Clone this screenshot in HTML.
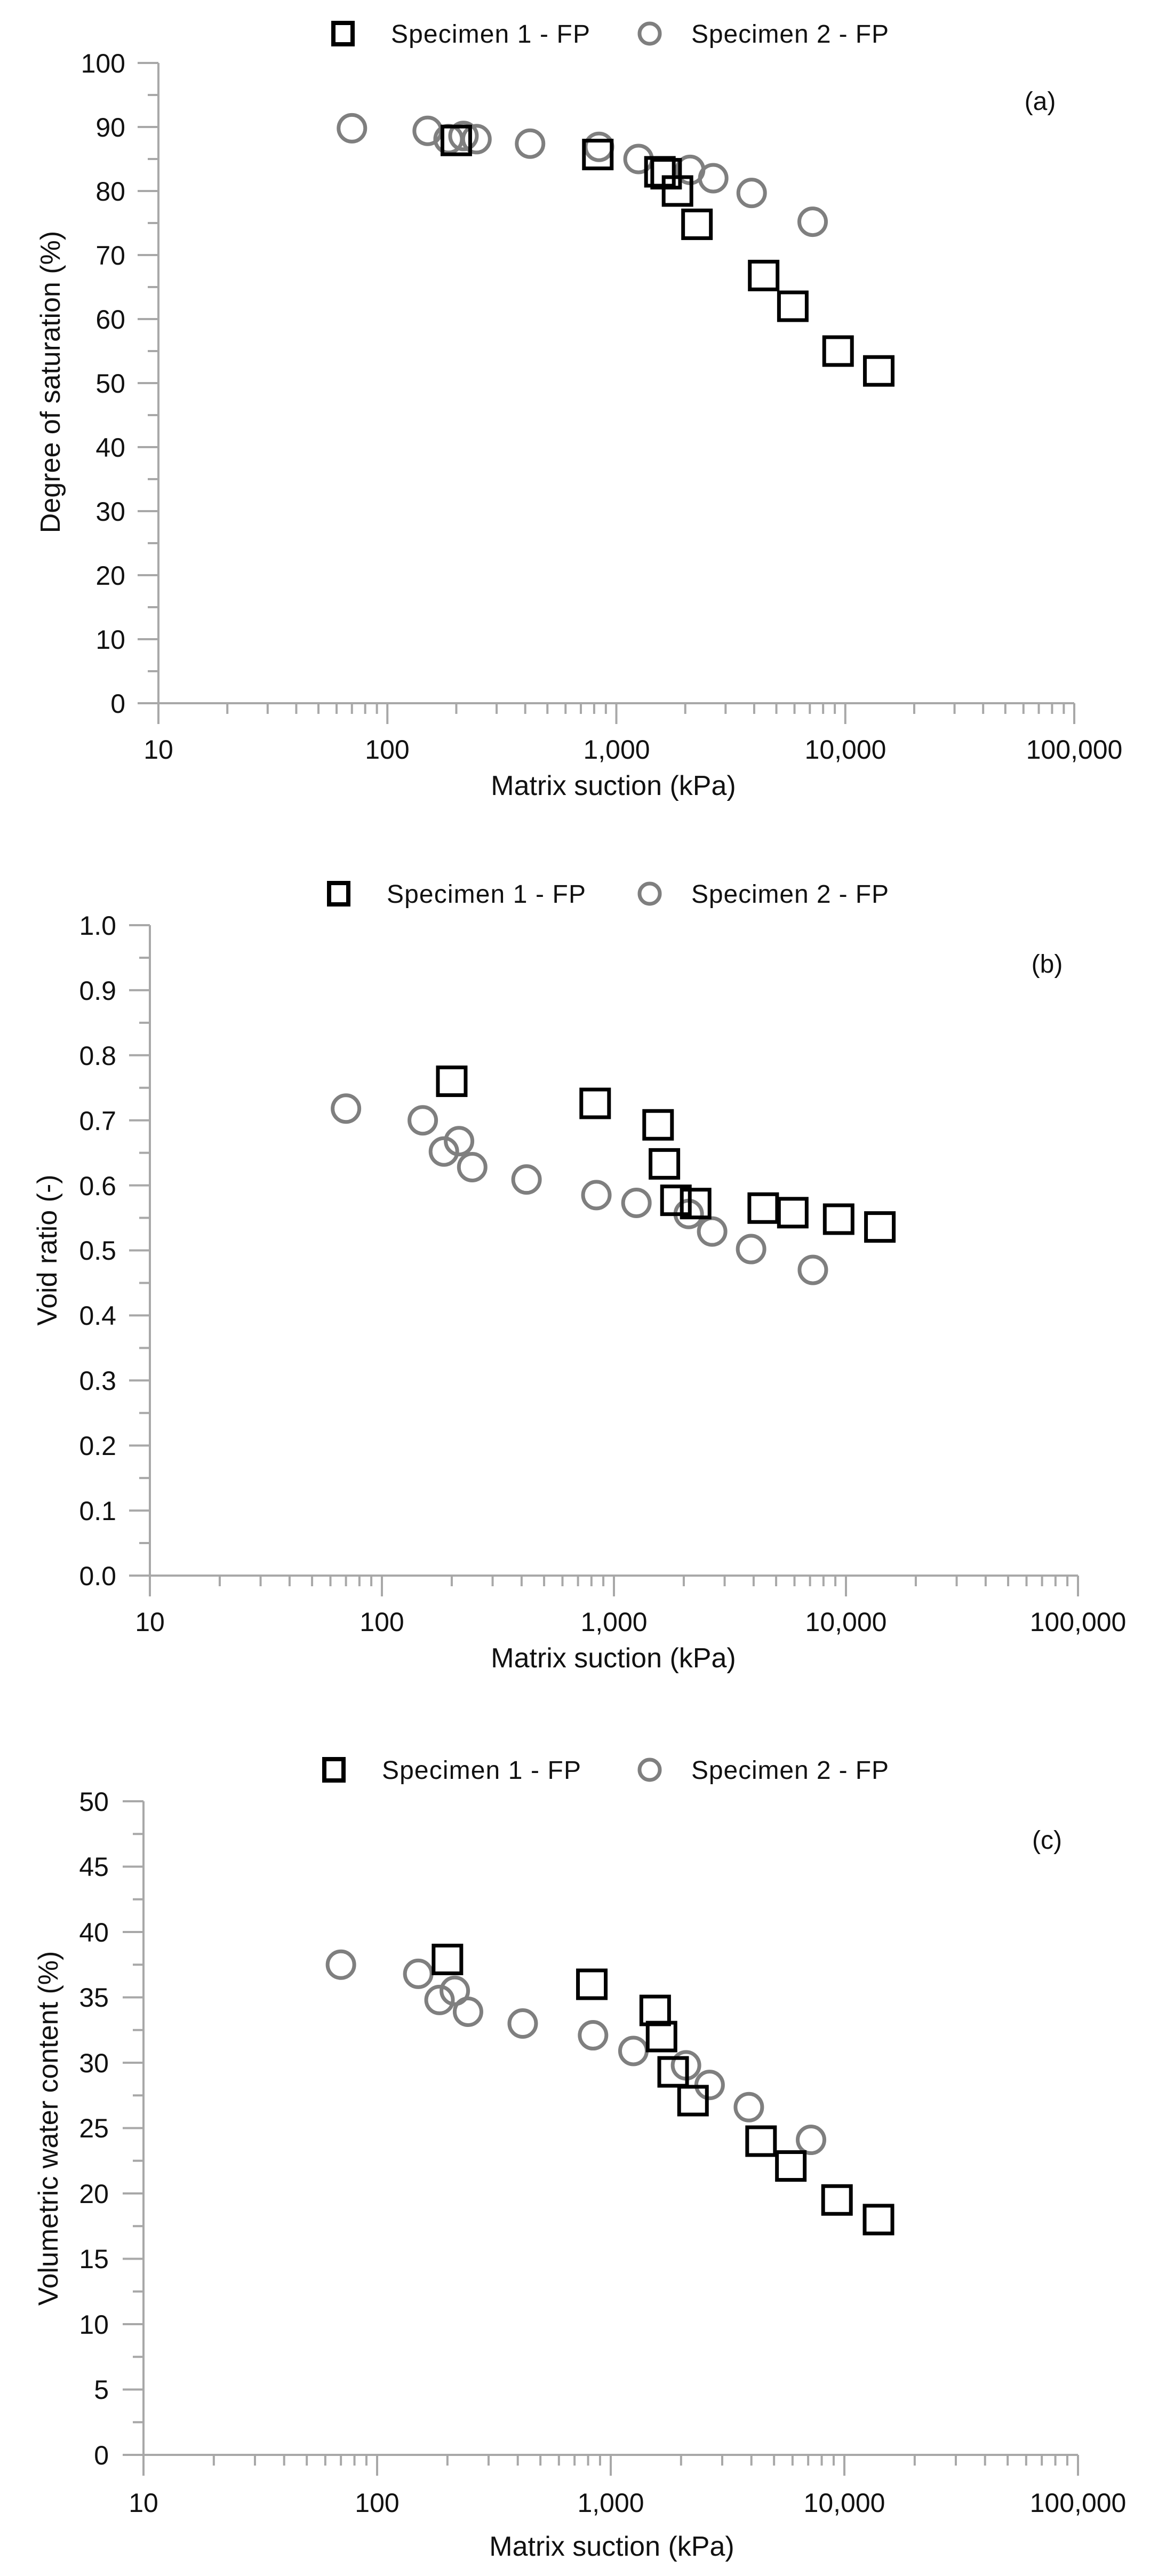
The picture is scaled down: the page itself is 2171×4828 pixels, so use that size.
<!DOCTYPE html>
<html><head><meta charset="utf-8">
<style>
html,body{margin:0;padding:0;background:#fff;}
svg{display:block;}
text{font-family:"Liberation Sans",Arial,sans-serif;fill:#111;}
</style></head>
<body>
<svg id="s" width="2171" height="4828" viewBox="0 0 2171 4828" xmlns="http://www.w3.org/2000/svg">
<g id="g"></g>
<!-- Panel A text -->
<g font-size="50" text-anchor="end">
<text x="235" y="136">100</text><text x="235" y="256">90</text><text x="235" y="376">80</text><text x="235" y="496">70</text><text x="235" y="616">60</text><text x="235" y="736">50</text><text x="235" y="856">40</text><text x="235" y="976">30</text><text x="235" y="1096">20</text><text x="235" y="1216">10</text><text x="235" y="1336">0</text>
</g>
<g font-size="50" text-anchor="middle">
<text x="297" y="1422">10</text><text x="726" y="1422">100</text><text x="1156" y="1422">1,000</text><text x="1585" y="1422">10,000</text><text x="2014" y="1422">100,000</text>
<text x="1150" y="1490" font-size="52">Matrix suction (kPa)</text>
<text transform="translate(112,716) rotate(-90)" font-size="52">Degree of saturation (%)</text>
</g>
<text x="1950" y="206" font-size="48" text-anchor="middle">(a)</text>
<text x="733" y="80" font-size="48" textLength="373">Specimen 1 - FP</text>
<text x="1296" y="80" font-size="48" textLength="370">Specimen 2 - FP</text>

<!-- Panel B text -->
<g font-size="50" text-anchor="end">
<text x="218" y="1752">1.0</text><text x="218" y="1874">0.9</text><text x="218" y="1996">0.8</text><text x="218" y="2118">0.7</text><text x="218" y="2240">0.6</text><text x="218" y="2361">0.5</text><text x="218" y="2483">0.4</text><text x="218" y="2605">0.3</text><text x="218" y="2727">0.2</text><text x="218" y="2849">0.1</text><text x="218" y="2971">0.0</text>
</g>
<g font-size="50" text-anchor="middle">
<text x="281" y="3057">10</text><text x="716" y="3057">100</text><text x="1151" y="3057">1,000</text><text x="1586" y="3057">10,000</text><text x="2021" y="3057">100,000</text>
<text x="1150" y="3125" font-size="52">Matrix suction (kPa)</text>
<text transform="translate(106,2343) rotate(-90)" font-size="52">Void ratio (-)</text>
</g>
<text x="1963" y="1823" font-size="48" text-anchor="middle">(b)</text>
<text x="725" y="1692" font-size="48" textLength="373">Specimen 1 - FP</text>
<text x="1296" y="1692" font-size="48" textLength="370">Specimen 2 - FP</text>

<!-- Panel C text -->
<g font-size="50" text-anchor="end">
<text x="204" y="3394">50</text><text x="204" y="3516">45</text><text x="204" y="3639">40</text><text x="204" y="3761">35</text><text x="204" y="3884">30</text><text x="204" y="4006">25</text><text x="204" y="4129">20</text><text x="204" y="4251">15</text><text x="204" y="4374">10</text><text x="204" y="4496">5</text><text x="204" y="4619">0</text>
</g>
<g font-size="50" text-anchor="middle">
<text x="269" y="4708">10</text><text x="707" y="4708">100</text><text x="1145" y="4708">1,000</text><text x="1583" y="4708">10,000</text><text x="2021" y="4708">100,000</text>
<text x="1147" y="4790" font-size="52">Matrix suction (kPa)</text>
<text transform="translate(108,3989) rotate(-90)" font-size="52">Volumetric water content (%)</text>
</g>
<text x="1963" y="3465" font-size="48" text-anchor="middle">(c)</text>
<text x="716" y="3334" font-size="48" textLength="373">Specimen 1 - FP</text>
<text x="1296" y="3334" font-size="48" textLength="370">Specimen 2 - FP</text>
</svg>
<script>
(function(){
var g=document.getElementById('g'),NS='http://www.w3.org/2000/svg';
function el(t,a){var e=document.createElementNS(NS,t);for(var k in a)e.setAttribute(k,a[k]);g.appendChild(e);return e;}
var AX='#a8a8a8';
var cS=[70,150,185,215,245,420,840,1250,2100,2650,3900,7200];
var sS=[200,830,1550,1650,1850,2250,4400,5900,9300,14000];
var P=[
 {x0:297,x1:2014,yt:118,yb:1318,ym:100,maj:10,ly:63,lsx:643,lcx:1218,
  c:[89.8,89.4,88.1,88.6,88.1,87.4,86.9,85,83.3,82,79.7,75.2],
  s:[87.9,85.7,83,82.7,80,74.8,66.8,62,55,51.9]},
 {x0:281,x1:2021,yt:1734,yb:2953,ym:1,maj:0.1,ly:1675,lsx:635,lcx:1218,
  c:[0.718,0.70,0.652,0.668,0.628,0.609,0.585,0.573,0.556,0.529,0.502,0.47],
  s:[0.76,0.726,0.693,0.633,0.577,0.572,0.565,0.558,0.548,0.536]},
 {x0:269,x1:2021,yt:3376,yb:4601,ym:50,maj:5,ly:3317,lsx:626,lcx:1218,
  c:[37.5,36.8,34.8,35.5,33.9,33,32.1,30.9,29.8,28.3,26.6,24.1],
  s:[37.9,36,34,32,29.3,27.1,24,22.1,19.5,18]}
];
P.forEach(function(p){
 var dw=(p.x1-p.x0)/4,h=p.yb-p.yt;
 function X(v){return p.x0+(Math.log10(v)-1)*dw;}
 function Y(v){return p.yb-v/p.ym*h;}
 el('line',{x1:p.x0,y1:p.yt,x2:p.x0,y2:p.yb+39,stroke:AX,'stroke-width':4});
 el('line',{x1:p.x0-39,y1:p.yb,x2:p.x1,y2:p.yb,stroke:AX,'stroke-width':4});
 for(var i=0;i<=20;i++){var y=p.yt+h*i/20;var L=(i%2==0)?39:20;
  el('line',{x1:p.x0-L,y1:y,x2:p.x0,y2:y,stroke:AX,'stroke-width':4});}
 for(var d=0;d<4;d++){for(var m=2;m<=9;m++){var x=p.x0+(d+Math.log10(m))*dw;
  el('line',{x1:x,y1:p.yb,x2:x,y2:p.yb+20,stroke:AX,'stroke-width':4});}}
 for(var d=0;d<=4;d++){var x=p.x0+d*dw;el('line',{x1:x,y1:p.yb,x2:x,y2:p.yb+39,stroke:AX,'stroke-width':4});}
 cS.forEach(function(v,i){el('circle',{cx:X(v),cy:Y(p.c[i]),r:25,fill:'none',stroke:'#7f7f7f','stroke-width':7});});
 sS.forEach(function(v,i){el('rect',{x:X(v)-26,y:Y(p.s[i])-26,width:52,height:52,fill:'none',stroke:'#000','stroke-width':7});});
 el('rect',{x:p.lsx-18,y:p.ly-20,width:36,height:40,fill:'none',stroke:'#000','stroke-width':8});
 el('circle',{cx:p.lcx,cy:p.ly,r:19,fill:'none',stroke:'#7f7f7f','stroke-width':7});
});
})();
</script>
</body></html>
